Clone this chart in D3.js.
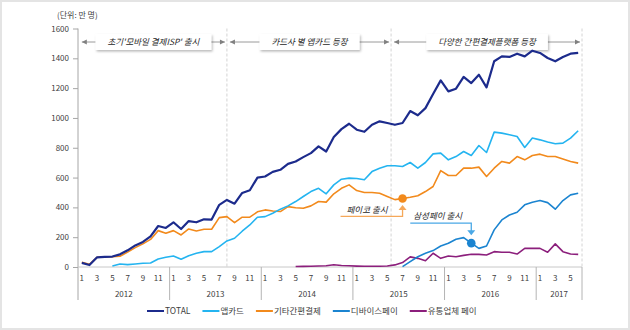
<!DOCTYPE html>
<html>
<head>
<meta charset="utf-8">
<script src="https://cdn.jsdelivr.net/npm/d3@7/dist/d3.min.js"></script>
<style>
  body { margin: 0; background: #fff; }
  svg { font-family: "Noto Sans CJK KR", "Noto Sans", sans-serif; }
</style>
</head>
<body>
<svg id="chart" width="630" height="330"></svg>
<script>
// months on the x axis: Jan 2012 .. Jun 2017
var years = [2012, 2013, 2014, 2015, 2016, 2017];
var monthsInYear = [12, 12, 12, 12, 12, 6];
var monthTickLabels = ["1", "3", "5", "7", "9", "11"];
var yTicks = [0, 200, 400, 600, 800, 1000, 1200, 1400, 1600];

var seriesNames = ["TOTAL", "앱카드", "기타간편결제", "디바이스페이", "유통업체 페이"];
var seriesColors = ["#1c2b8c", "#24b4f0", "#f28a1c", "#1b84d0", "#8c1f7c"];
var seriesWidths = [2.2, 1.6, 1.6, 1.6, 1.6];
// first month index where each series has data
var seriesStart = [0, 4, 0, 42, 28];

var total = [28, 13, 65, 68, 70, 85, 112, 145, 168, 205, 275, 262,
  300, 255, 308, 300, 320, 318, 417, 450, 425, 497, 515, 600,
  607, 638, 652, 692, 708, 737, 764, 809, 775, 872, 925, 961,
  921, 907, 954, 977, 966, 954, 966, 1046, 1018, 1066, 1160, 1252,
  1178, 1196, 1275, 1234, 1290, 1205, 1380, 1413, 1409, 1431, 1413, 1451,
  1436, 1402, 1380, 1409, 1431, 1436];

var appCard = [7, 20, 16, 20, 25, 27, 54, 65,
  74, 52, 76, 92, 103, 103, 137, 175, 193, 240, 282, 334,
  338, 361, 388, 410, 439, 473, 506, 528, 491, 551, 589, 596,
  594, 585, 640, 663, 679, 679, 674, 701, 663, 701, 759, 764,
  719, 741, 775, 748, 815, 768, 905, 898, 887, 876, 802, 865,
  853, 838, 827, 831, 865, 914];

var otherPay = [32, 18, 65, 69, 69, 72, 100, 130, 155, 185, 244, 226,
  244, 215, 255, 242, 253, 253, 331, 338, 298, 334, 334, 370,
  383, 376, 372, 405, 398, 394, 410, 439, 435, 491, 528, 551,
  513, 500, 500, 495, 473, 452, 460, 468, 478, 506, 540, 647,
  614, 614, 663, 663, 670, 607, 663, 708, 697, 741, 719, 748,
  757, 741, 741, 724, 708, 697];

var devicePay = [3, 36, 69, 92, 110, 141,
  159, 186, 197, 160, 125, 141, 249, 316, 349, 367, 417, 435,
  446, 432, 388, 446, 484, 495];

var retailPay = [3, 4, 5, 7, 8, 15, 10, 8,
  6, 5, 5, 5, 7, 14, 30, 68, 58, 42, 92, 58,
  74, 69, 78, 85, 85, 81, 103, 99, 99, 87, 125, 125,
  125, 99, 155, 103, 87, 85];

// periods marked along the top, in month indexes
var phaseLabels = ["초기'모바일 결제ISP' 출시", "카드사 별 앱카드 등장", "다양한 간편결제플랫폼 등장"];
var phaseFrom = [-0.5, 19, 40.5];
var phaseTo = [19, 40.5, 65.5];

// launch events pinned on a series
var eventLabels = ["페이코 출시", "삼성페이 출시"];
var eventMonth = [42, 51];
var eventSeries = [2, 3];

var W = 630, H = 330;
var plotLeft = 78, plotRight = 582, plotTop = 28.5, plotBottom = 267;

var svg = d3.select("#chart");

svg.append("rect")
  .attr("x", 1).attr("y", 1)
  .attr("width", W - 2).attr("height", H - 2)
  .attr("fill", "#fff")
  .attr("stroke", "#e4e4e4")
  .attr("stroke-width", 2);

var defs = svg.append("defs");
var shadow = defs.append("filter").attr("id", "shadow")
  .attr("x", "-10%").attr("y", "-40%").attr("width", "130%").attr("height", "200%");
shadow.append("feDropShadow")
  .attr("dx", 1.2).attr("dy", 1.5)
  .attr("stdDeviation", 1.3)
  .attr("flood-color", "#000")
  .attr("flood-opacity", 0.28);

var nMonths = d3.sum(monthsInYear);

var x = d3.scaleLinear().domain([-0.5, nMonths - 0.5]).range([plotLeft, plotRight]);
var y = d3.scaleLinear().domain([0, 1600]).range([plotBottom, plotTop]);

// pad each series to the full month range
var rawSeries = [total, appCard, otherPay, devicePay, retailPay];
var series = rawSeries.map(function(vals, s) {
  var out = [];
  for (var i = 0; i < nMonths; i++) {
    var k = i - seriesStart[s];
    out.push(k >= 0 && k < vals.length ? vals[k] : null);
  }
  return out;
});

// dashed period separators
var sepX = phaseFrom.slice(1).concat([nMonths - 0.5]);
svg.selectAll("line.sep")
  .data(sepX)
  .enter().append("line")
  .attr("class", "sep")
  .attr("x1", function(d) { return x(d); })
  .attr("x2", function(d) { return x(d); })
  .attr("y1", plotTop)
  .attr("y2", plotBottom)
  .attr("stroke", "#d4d4d4")
  .attr("stroke-dasharray", "3,2")
  .attr("stroke-width", 1);

// y axis
var yAxis = d3.axisLeft(y).tickValues(yTicks).tickFormat(d3.format("d"))
  .tickSize(5).tickPadding(4);
var yG = svg.append("g")
  .attr("transform", "translate(" + plotLeft + ",0)")
  .call(yAxis);
yG.select(".domain").remove();
yG.selectAll(".tick line").attr("stroke", "#a6a6a6");
yG.selectAll(".tick text")
  .attr("fill", "#404040")
  .style("font-size", "8px")
  .style("font-family", "'Noto Sans CJK KR', sans-serif");

svg.append("line")
  .attr("x1", plotLeft).attr("x2", plotLeft)
  .attr("y1", plotTop).attr("y2", 300)
  .attr("stroke", "#a6a6a6");

svg.append("line")
  .attr("x1", plotLeft).attr("x2", plotRight)
  .attr("y1", plotBottom).attr("y2", plotBottom)
  .attr("stroke", "#c8c8c8");

svg.append("text")
  .attr("x", 57).attr("y", 18)
  .attr("fill", "#404040")
  .style("font-size", "8px")
  .text("(단위: 만 명)");

// month ticks and year groups
var monthLabels = [];
var yearBounds = [];
var idx = 0;
years.forEach(function(yr, j) {
  yearBounds.push({ year: yr, from: idx - 0.5, to: idx + monthsInYear[j] - 0.5 });
  for (var m = 1; m <= monthsInYear[j]; m++) {
    if (monthTickLabels.indexOf(String(m)) >= 0) monthLabels.push({ i: idx, label: String(m) });
    idx++;
  }
});

svg.selectAll("text.month")
  .data(monthLabels)
  .enter().append("text")
  .attr("class", "month")
  .attr("x", function(d) { return x(d.i); })
  .attr("y", 281)
  .attr("text-anchor", "middle")
  .attr("fill", "#404040")
  .style("font-size", "8px")
  .text(function(d) { return d.label; });

svg.selectAll("line.yearsep")
  .data(yearBounds.map(function(d) { return d.to; }))
  .enter().append("line")
  .attr("class", "yearsep")
  .attr("x1", function(d) { return x(d); })
  .attr("x2", function(d) { return x(d); })
  .attr("y1", plotBottom)
  .attr("y2", 300)
  .attr("stroke", "#b4b4b4");

svg.selectAll("text.year")
  .data(yearBounds)
  .enter().append("text")
  .attr("class", "year")
  .attr("x", function(d) { return x((d.from + d.to) / 2); })
  .attr("y", 297)
  .attr("text-anchor", "middle")
  .attr("fill", "#404040")
  .style("font-size", "8px")
  .text(function(d) { return d.year; });

// period arrows with boxed captions
var phaseY = 42;
function arrowHead(g, tipX, dir) {
  g.append("path")
    .attr("d", "M" + tipX + "," + phaseY +
      "L" + (tipX - dir * 5) + "," + (phaseY - 2.5) +
      "L" + (tipX - dir * 5) + "," + (phaseY + 2.5) + "Z")
    .attr("fill", "#808080");
}
phaseLabels.forEach(function(label, p) {
  var g = svg.append("g");
  var x0 = x(phaseFrom[p]) + 3, x1 = x(phaseTo[p]) - 2;
  if (p === 0) x0 = x(0);
  g.append("line")
    .attr("x1", x0).attr("x2", x1)
    .attr("y1", phaseY).attr("y2", phaseY)
    .attr("stroke", "#9a9a9a");
  arrowHead(g, x0, -1);
  arrowHead(g, x1, 1);
  var cx = (x0 + x1) / 2;
  var t = g.append("text")
    .attr("x", cx).attr("y", phaseY + 3)
    .attr("text-anchor", "middle")
    .attr("fill", "#262626")
    .style("font-size", "8.5px")
    .style("font-style", "italic")
    .text(label);
  var tw = t.node().getComputedTextLength();
  g.insert("rect", "text")
    .attr("x", cx - tw / 2 - 12)
    .attr("y", phaseY - 8)
    .attr("width", tw + 24)
    .attr("height", 16)
    .attr("fill", "#fff")
    .attr("filter", "url(#shadow)");
});

// series lines
var line = d3.line()
  .defined(function(d) { return d != null; })
  .x(function(d, i) { return x(i); })
  .y(function(d) { return y(d); });

d3.range(series.length).reverse().forEach(function(s) {
  svg.append("path")
    .datum(series[s])
    .attr("fill", "none")
    .attr("stroke", seriesColors[s])
    .attr("stroke-width", seriesWidths[s])
    .attr("stroke-linejoin", "round")
    .attr("d", line);
});

// launch markers
var eventColors = ["#f5a85a", "#4aa8e6"];
eventLabels.forEach(function(label, e) {
  var s = eventSeries[e];
  var m = eventMonth[e];
  var px = x(m), py = y(series[s][m]);
  var g = svg.append("g");
  var col = eventColors[e];
  var tipY, elbowY, lx, ty, anchor;
  if (e === 0) {
    elbowY = py + 18; tipY = py + 6.5;
    lx = px - 62; ty = py + 15; anchor = "end";
  } else {
    elbowY = py - 20; tipY = py - 8;
    lx = px - 61; ty = py - 24; anchor = "start";
  }
  g.append("polyline")
    .attr("points", lx + "," + elbowY + " " + px + "," + elbowY + " " + px + "," + (tipY + (e === 0 ? 4 : -4)))
    .attr("fill", "none")
    .attr("stroke", col)
    .attr("stroke-width", 1.3);
  var dir = e === 0 ? 1 : -1;
  g.append("path")
    .attr("d", "M" + px + "," + tipY +
      "L" + (px - 4) + "," + (tipY + dir * 5) +
      "L" + (px + 4) + "," + (tipY + dir * 5) + "Z")
    .attr("fill", col);
  g.append("circle")
    .attr("cx", px).attr("cy", py)
    .attr("r", 4.3)
    .attr("fill", seriesColors[s]);
  g.append("text")
    .attr("x", anchor === "end" ? px - 15 : lx + 3)
    .attr("y", ty)
    .attr("text-anchor", anchor)
    .attr("fill", "#262626")
    .style("font-size", "8.5px")
    .style("font-style", "italic")
    .text(label);
});

// legend
var legend = svg.append("g");
var legX = 147, legY = 311;
seriesNames.forEach(function(name, s) {
  legend.append("line")
    .attr("x1", legX).attr("x2", legX + 17)
    .attr("y1", legY).attr("y2", legY)
    .attr("stroke", seriesColors[s])
    .attr("stroke-width", 2);
  var t = legend.append("text")
    .attr("x", legX + 18).attr("y", legY + 3)
    .attr("fill", "#404040")
    .style("font-size", "8.5px")
    .text(name);
  legX += 18 + t.node().getComputedTextLength() + 12;
});
</script>
</body>
</html>
